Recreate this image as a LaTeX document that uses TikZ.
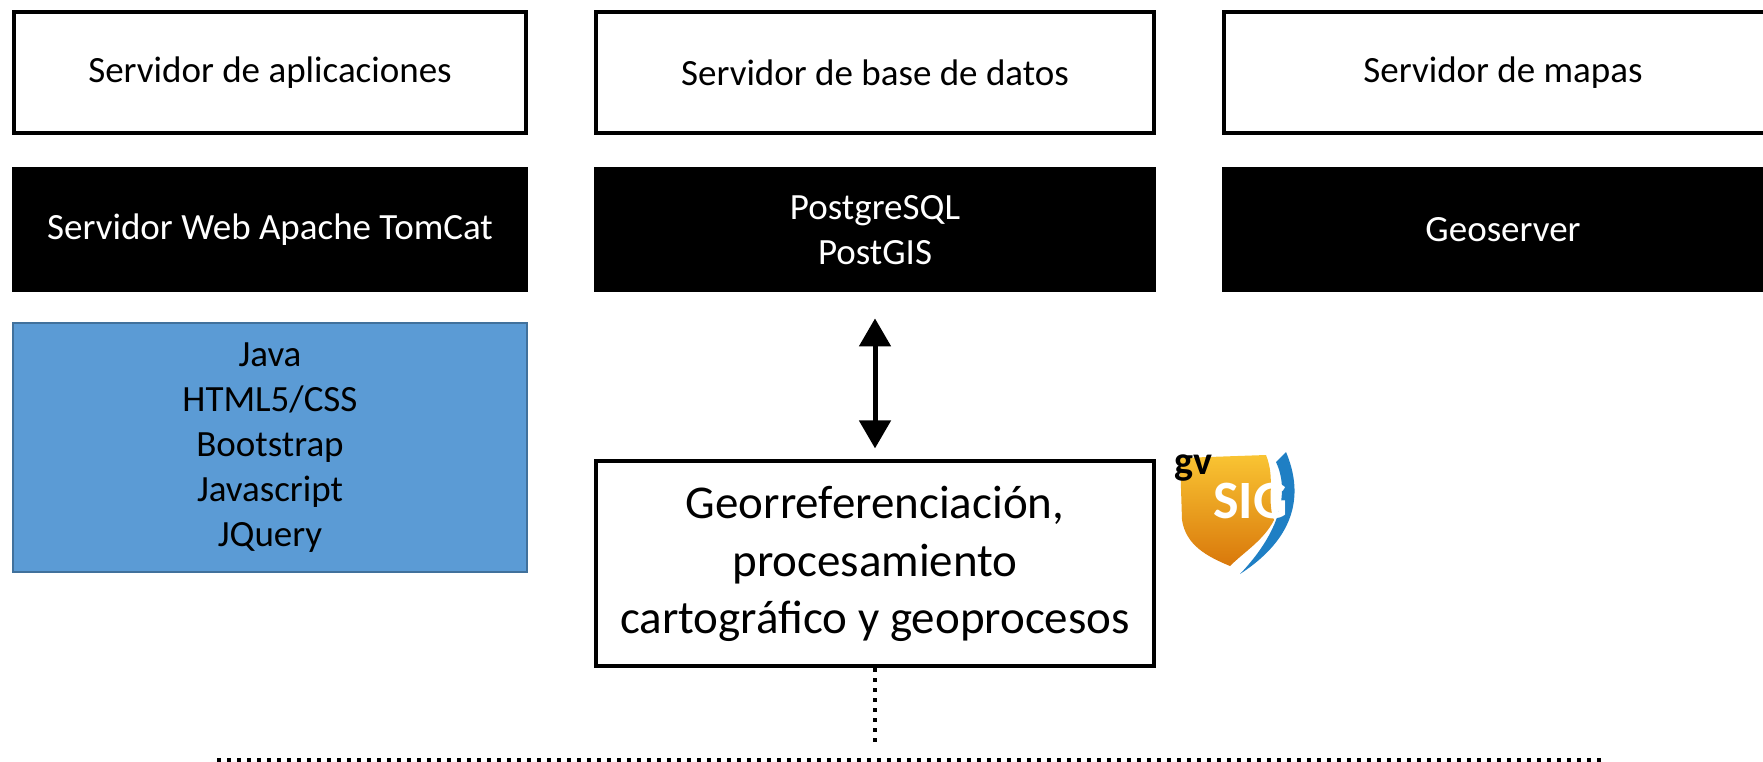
\documentclass[tikz,border=0pt]{standalone}
\usepackage{fontspec}
\setmainfont{Carlito}
\usetikzlibrary{positioning,arrows.meta}
\definecolor{javablue}{HTML}{5B9BD5}
\definecolor{javaline}{HTML}{41719C}
\definecolor{gvyellow}{HTML}{F9C433}
\definecolor{gvorange}{HTML}{D9780B}
\definecolor{gvblue}{HTML}{1F7FC4}

\begin{document}
\begin{tikzpicture}[x=1pt, y=-1pt,
        server/.style={rectangle, draw=black, line width=4pt, minimum height=121pt, font=\fontsize{37}{45}\selectfont},
        stack/.style={rectangle, fill=black, text=white, minimum height=125pt, align=center, font=\fontsize{37}{45}\selectfont},
        bus/.style={line width=4pt, dash pattern=on 4pt off 6pt},
        dbl/.style={{Triangle[width=31pt,length=28pt]}-{Triangle[width=31pt,length=28pt]}, line width=5pt}]
        \path[use as bounding box, clip] (0,0) rectangle (1763,761);

        \node[server, minimum width=512pt](app) at (270,72.5) {Servidor de aplicaciones};
        \node[server, minimum width=558pt](db) [right=66pt of app] {Servidor de base de datos};
        \node[server, minimum width=558pt](maps) [right=66pt of db] {Servidor de mapas};

        \node[stack, minimum width=516pt](tomcat) [below=32pt of app] {Servidor Web Apache TomCat};
        \node[stack, minimum width=562pt](pg) [below=32pt of db] {PostgreSQL\\PostGIS};
        \node[stack, minimum width=562pt](geoserver) [below=32pt of maps] {Geoserver};

        \node[rectangle, draw=javaline, fill=javablue, line width=2pt, minimum width=514pt, minimum height=249pt, align=center, font=\fontsize{37}{45}\selectfont](java) [below=30pt of tomcat] {Java\\HTML5/CSS\\Bootstrap\\Javascript\\JQuery};

        \node[rectangle, draw=black, line width=4pt, minimum width=558pt, minimum height=205pt, align=center, font=\fontsize{47}{57.5}\selectfont](geo) [below=167pt of pg] {Georreferenciación,\\procesamiento\\cartográfico y geoprocesos};

        \draw[dbl] ([yshift=-26pt]pg.south) -- ([yshift=11pt]geo.north);

        % gvSIG logo
        \fill[gvblue] (1286,452) .. controls (1302,490) and (1300,535) .. (1240,574) .. controls (1280,532) and (1290,492) .. (1276,462) -- cycle;
        \shade[top color=gvyellow, bottom color=gvorange] (1180,458) -- (1266,455) .. controls (1276,480) and (1266,500) .. (1274,520) .. controls (1264,540) and (1244,552) .. (1230,566) .. controls (1206,556) and (1186,545) .. (1182,520) -- cycle;
        \node[font=\fontsize{40}{40}\selectfont\bfseries, text=black, inner sep=0pt](gv) at (1193,468) {gv};
        \node[font=\fontsize{54}{54}\selectfont\bfseries, text=white, inner sep=0pt, anchor=west](sig) at (1213,501) {SIG};

        \coordinate (tap) at (875,748);
        \coordinate (busW) at (217,759.5);
        \coordinate (busE) at (1606,759.5);
        \draw[bus] (geo.south) -- (tap);
        \draw[bus] (busW) -- (busE);
    \end{tikzpicture}
\end{document}
